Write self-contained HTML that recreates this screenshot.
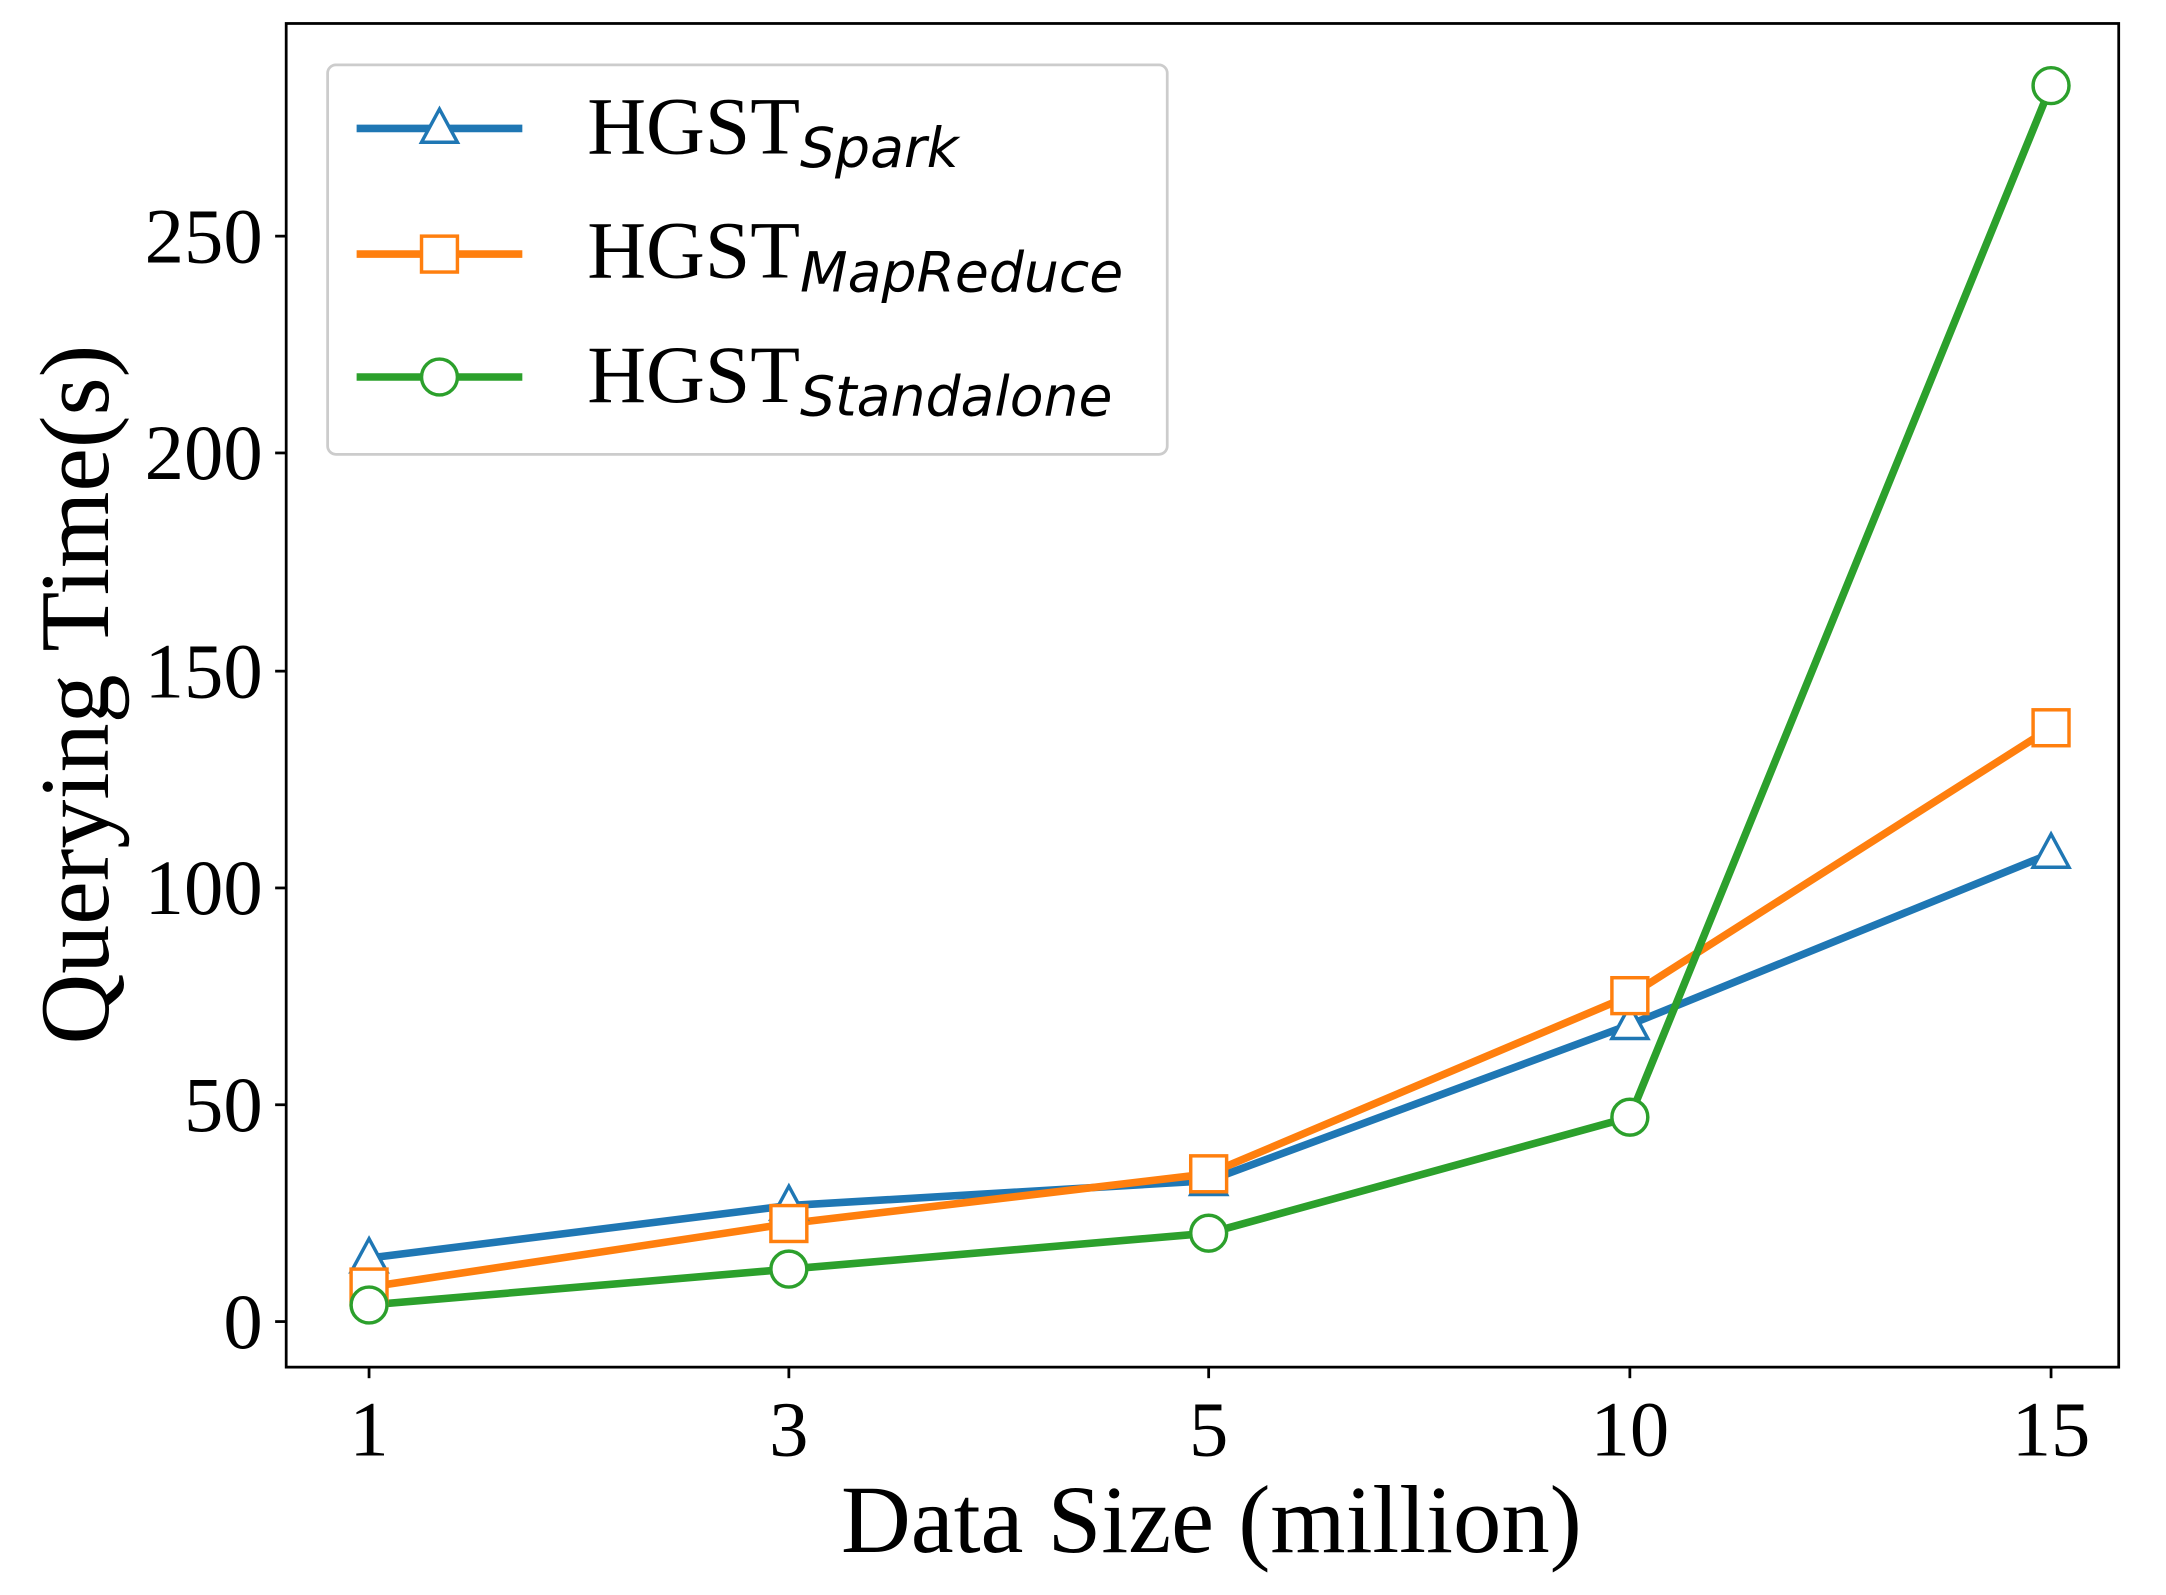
<!DOCTYPE html>
<html><head><meta charset="utf-8"><style>html,body{margin:0;padding:0;background:#fff}svg{display:block}</style></head>
<body>
<svg width="2166" height="1595" viewBox="0 0 1568 1155" xmlns="http://www.w3.org/2000/svg">
<rect width="1568" height="1155" fill="#fff"/>
<g font-family="Liberation Serif, serif" font-size="57" fill="#000">
<g stroke="#000" stroke-width="2">
<line x1="199" y1="957" x2="207" y2="957"/><line x1="199" y1="800" x2="207" y2="800"/>
<line x1="199" y1="643" x2="207" y2="643"/><line x1="199" y1="486" x2="207" y2="486"/>
<line x1="199" y1="328" x2="207" y2="328"/><line x1="199" y1="171" x2="207" y2="171"/>
<line x1="267" y1="990" x2="267" y2="998"/><line x1="571" y1="990" x2="571" y2="998"/>
<line x1="875" y1="990" x2="875" y2="998"/><line x1="1180" y1="990" x2="1180" y2="998"/>
<line x1="1485" y1="990" x2="1485" y2="998"/>
</g>
<g text-anchor="end">
<text x="190" y="976">0</text><text x="190" y="819">50</text><text x="190" y="662">100</text>
<text x="190" y="505">150</text><text x="190" y="347">200</text><text x="190" y="190">250</text>
</g>
<g text-anchor="middle">
<text x="267" y="1054">1</text><text x="571" y="1054">3</text><text x="875" y="1054">5</text>
<text x="1180" y="1054">10</text><text x="1485" y="1054">15</text>
<text x="877" y="1124" font-size="70">Data Size (million)</text>
<text transform="translate(78,503) rotate(-90)" font-size="71">Querying Time(s)</text>
</g>
</g>
<g fill="none" stroke-width="5.5" stroke-linejoin="round">
<polyline stroke="#1f77b4" points="267,911 571,873 875,855 1180,742 1485,618"/>
<polyline stroke="#ff7f0e" points="267,932 571,886 875,850 1180,721 1485,527"/>
<polyline stroke="#2ca02c" points="267,945 571,919 875,893 1180,809 1485,62"/>
</g>
<g fill="#fff" stroke-width="2.5">
<g stroke="#1f77b4">
<polygon points="267,897 280,921 254,921"/><polygon points="571,859 584,883 558,883"/>
<polygon points="875,841 888,865 862,865"/><polygon points="1180,728 1193,752 1167,752"/>
<polygon points="1485,604 1498,628 1472,628"/>
</g>
<g stroke="#ff7f0e">
<rect x="254" y="919" width="26" height="26"/><rect x="558" y="873" width="26" height="26"/>
<rect x="862" y="837" width="26" height="26"/><rect x="1167" y="708" width="26" height="26"/>
<rect x="1472" y="514" width="26" height="26"/>
</g>
<g stroke="#2ca02c">
<circle cx="267" cy="945" r="13"/><circle cx="571" cy="919" r="13"/><circle cx="875" cy="893" r="13"/>
<circle cx="1180" cy="809" r="13"/><circle cx="1485" cy="62" r="13"/>
</g>
</g>
<rect x="207" y="17" width="1327" height="973" fill="none" stroke="#000" stroke-width="2"/>
<rect x="237" y="47" width="608" height="282" rx="6" fill="#fff" stroke="#ccc" stroke-width="2"/>
<g stroke-width="5.5">
<line x1="258" y1="93" x2="378" y2="93" stroke="#1f77b4"/>
<line x1="258" y1="184" x2="378" y2="184" stroke="#ff7f0e"/>
<line x1="258" y1="273" x2="378" y2="273" stroke="#2ca02c"/>
</g>
<g fill="#fff" stroke-width="2.5">
<polygon points="318,79 331,103 305,103" stroke="#1f77b4"/>
<rect x="305" y="171" width="26" height="26" stroke="#ff7f0e"/>
<circle cx="318" cy="273" r="13" stroke="#2ca02c"/>
</g>
<g font-family="Liberation Serif, serif" font-size="59" fill="#000">
<text x="425" y="111">HGST<tspan font-family="DejaVu Sans, sans-serif" font-style="italic" font-size="40" dy="10">Spark</tspan></text>
<text x="425" y="201">HGST<tspan font-family="DejaVu Sans, sans-serif" font-style="italic" font-size="40" dy="10">MapReduce</tspan></text>
<text x="425" y="291">HGST<tspan font-family="DejaVu Sans, sans-serif" font-style="italic" font-size="40" dy="10">Standalone</tspan></text>
</g>
</svg>
</body></html>
